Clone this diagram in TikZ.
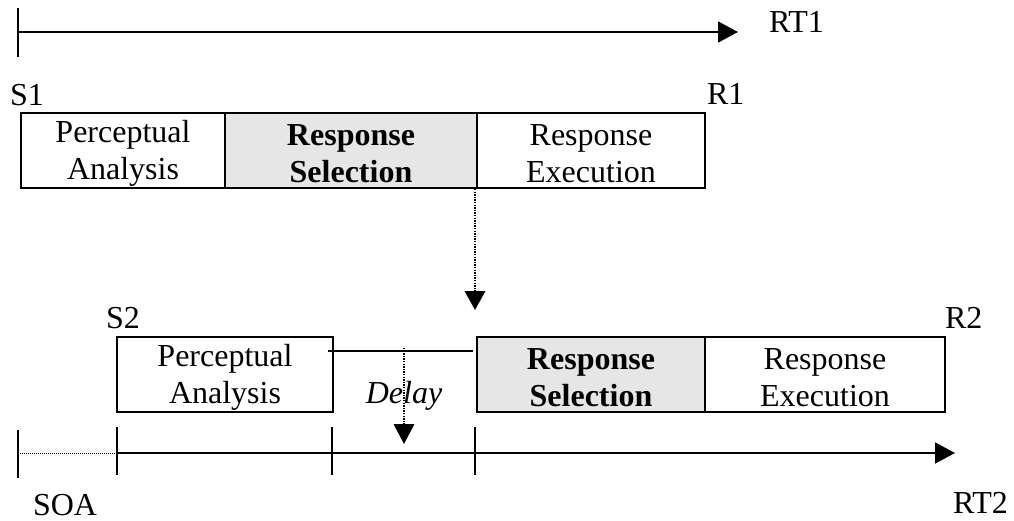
\documentclass[tikz,border=0pt]{standalone}
\usepackage{fontspec}
\setmainfont{Liberation Serif}
\usetikzlibrary{arrows.meta}
\definecolor{selgray}{RGB}{230,230,230}
\begin{document}
\begin{tikzpicture}[x=1pt,y=-1pt,
  every node/.style={font=\fontsize{32}{37}\selectfont, inner sep=0pt, outer sep=0pt},
  stage/.style={draw, line width=2pt, minimum height=75pt, anchor=north west},
  selstage/.style={stage, fill=selgray},
  stagetext/.style={align=center, yshift=-3pt},
  seltext/.style={stagetext, font=\fontsize{32}{37}\selectfont\bfseries},
  lbl/.style={anchor=base west},
  axis/.style={line width=1.7pt},
  tickmark/.style={line width=1.3pt},
  tipped/.style={-{Triangle[length=20pt,width=21pt]}},
  dotline/.style={line width=1.3pt, dash pattern=on 1.3pt off 1.3pt},
]
\useasboundingbox (0,0) rectangle (1014,520);

% ---- RT1 timeline ----
\coordinate (t1a) at (18,8);
\coordinate (t1b) at (18,57);
\coordinate (t1s) at (18,32);
\coordinate (t1e) at (738,32);
\draw[tickmark] (t1a) -- (t1b);
\draw[axis,tipped] (t1s) -- (t1e);
\node[lbl] (rt1) at (769,32) {RT1};

% ---- Task 1 ----
\node[lbl] (s1) at (10,105) {S1};
\node[lbl] (r1) at (707,104) {R1};
\node[stage, minimum width=204pt] (pa1) at (21,113) {};
\node[selstage, minimum width=252pt] (rs1) at (225,113) {};
\node[stage, minimum width=228pt] (re1) at (477,113) {};
\node[stagetext] (pa1t) at (pa1.center) {Perceptual\\Analysis};
\node[seltext] (rs1t) at (rs1.center) {Response\\Selection};
\node[stagetext] (re1t) at (re1.center) {Response\\Execution};

% dotted arrow from end of response selection 1 down
\coordinate (d1s) at (475,189);
\coordinate (d1m) at (475,292);
\coordinate (d1e) at (475,310);
\draw[dotline] (d1s) -- (d1m);
\fill (464.5,291) -- (485.5,291) -- (d1e) -- cycle;

% ---- Task 2 ----
\node[lbl] (s2) at (106,328) {S2};
\node[lbl] (r2) at (945,328) {R2};
\node[stage, minimum width=216pt] (pa2) at (117,337) {};
\node[selstage, minimum width=228pt] (rs2) at (477,337) {};
\node[stage, minimum width=240pt] (re2) at (705,337) {};
\node[stagetext] (pa2t) at (pa2.center) {Perceptual\\Analysis};
\node[seltext] (rs2t) at (rs2.center) {Response\\Selection};
\node[stagetext] (re2t) at (re2.center) {Response\\Execution};

% waiting line
\coordinate (w1) at (328,351);
\coordinate (w2) at (473,351);
\draw[line width=1.5pt] (w1) -- (w2);
\node[anchor=base, font=\fontsize{32}{37}\selectfont\itshape] (delay) at (404,403) {Delay};

% dotted delay arrow
\coordinate (d2s) at (404,348);
\coordinate (d2m) at (404,425);
\coordinate (d2e) at (404,444);
\draw[dotline] (d2s) -- (d2m);
\fill (393.5,424) -- (414.5,424) -- (d2e) -- cycle;

% ---- RT2 timeline ----
\coordinate (soaA) at (18,453);
\coordinate (soaB) at (117,453);
\coordinate (t2e) at (955,453);
\draw[line width=1pt, dash pattern=on 1pt off 1pt] (soaA) -- (soaB);
\draw[axis,tipped] (soaB) -- (t2e);
\draw[tickmark] (18,430) -- (18,478);
\draw[tickmark] (117,427) -- (117,475);
\draw[tickmark] (332,427) -- (332,475);
\draw[tickmark] (475,427) -- (475,475);
\node[lbl] (soa) at (33,515) {SOA};
\node[lbl] (rt2) at (953,513) {RT2};
\end{tikzpicture}
\end{document}
